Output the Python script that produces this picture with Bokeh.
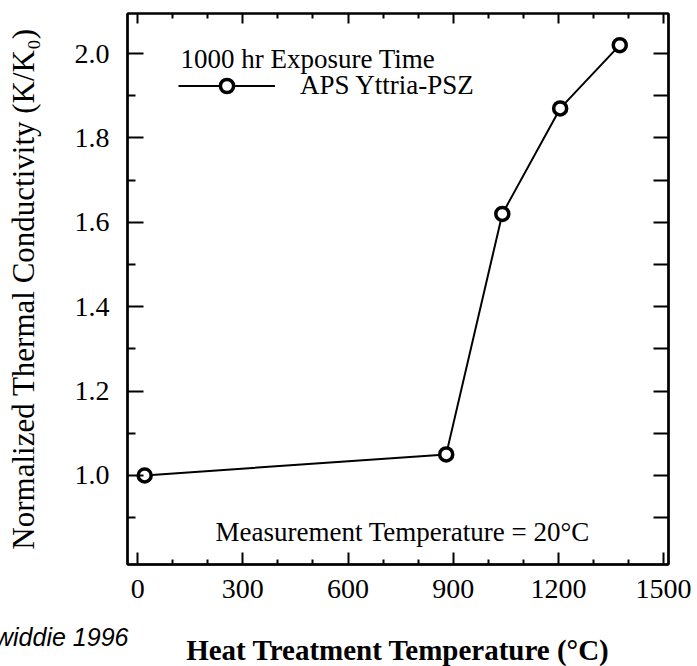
from bokeh.plotting import figure
from bokeh.models import (LinearAxis, FixedTicker, Label, Legend, LegendItem,
                          Range1d, CustomJSTickFormatter, PrintfTickFormatter, Title)
from bokeh.embed import file_html
from bokeh.resources import INLINE

# ---- data ----
heat_temp = [20, 880, 1040, 1205, 1375]          # Heat treatment temperature (°C)
norm_k = [1.00, 1.05, 1.62, 1.87, 2.02]          # K/K0

x_major = [0, 300, 600, 900, 1200, 1500]
x_minor = [100, 200, 400, 500, 700, 800, 1000, 1100, 1300, 1400]
y_major = [1.0, 1.2, 1.4, 1.6, 1.8, 2.0]
y_minor = [0.9, 1.1, 1.3, 1.5, 1.7, 1.9]
y_right = [0.9, 1.0, 1.1, 1.2, 1.3, 1.4, 1.5, 1.6, 1.7, 1.8, 1.9, 2.0]

series_label = "APS Yttria-PSZ"
legend_title = "1000 hr Exposure Time"
note_text = "Measurement Temperature = 20°C"
source_text = "Dinwiddie 1996"
x_title = "Heat Treatment Temperature (°C)"
y_title = "Normalized Thermal Conductivity (K/K₀)"

SERIF = "Liberation Serif"

p = figure(frame_width=541, frame_height=551,
           x_range=Range1d(-29, 1514), y_range=Range1d(0.789, 2.095),
           output_backend="svg", toolbar_location=None,
           min_border_left=127, min_border_right=24,
           min_border_top=13, min_border_bottom=0)
p.grid.visible = False
p.outline_line_color = "black"
p.outline_line_width = 2
p.background_fill_color = "white"
p.border_fill_color = "white"

# bottom axis (ticks and numbers)
xa = p.xaxis[0]
xa.ticker = FixedTicker(ticks=x_major, minor_ticks=x_minor)
xa.major_label_text_font = SERIF
xa.major_label_text_font_size = "28px"
xa.major_label_text_color = "black"
xa.major_label_standoff = 15
xa.major_tick_in = 12
xa.major_tick_out = 0
xa.minor_tick_in = 5
xa.minor_tick_out = 0
xa.axis_line_width = 2.5
xa.major_tick_line_width = 2
xa.minor_tick_line_width = 2

# left axis
ya = p.yaxis[0]
ya.ticker = FixedTicker(ticks=y_major, minor_ticks=y_minor)
ya.formatter = PrintfTickFormatter(format="%.1f")
ya.axis_label = y_title
ya.axis_label_text_font = SERIF
ya.axis_label_text_font_style = "normal"
ya.axis_label_text_font_size = "31px"
ya.axis_label_text_color = "black"
ya.axis_label_standoff = 31
ya.major_label_text_font = SERIF
ya.major_label_text_font_size = "28px"
ya.major_label_text_color = "black"
ya.major_label_standoff = 18
ya.major_tick_in = 16
ya.major_tick_out = 0
ya.minor_tick_in = 8
ya.minor_tick_out = 0
ya.axis_line_width = 2.5
ya.major_tick_line_width = 2
ya.minor_tick_line_width = 2

blank = CustomJSTickFormatter(code="return ''")

top = LinearAxis(ticker=FixedTicker(ticks=x_major, minor_ticks=x_minor),
                 formatter=blank, major_label_text_font_size="0px",
                 major_label_standoff=0, major_tick_in=10, major_tick_out=0,
                 minor_tick_in=5, minor_tick_out=0, axis_line_width=2,
                 major_tick_line_width=2, minor_tick_line_width=2)
p.add_layout(top, "above")

right = LinearAxis(ticker=FixedTicker(ticks=y_right, minor_ticks=[]),
                   formatter=blank, major_label_text_font_size="0px",
                   major_label_standoff=0, major_tick_in=15, major_tick_out=0,
                   minor_tick_in=0, minor_tick_out=0, axis_line_width=2.5,
                   major_tick_line_width=2)
p.add_layout(right, "right")

# source note under the numbers, running off the left edge
src = Title(text=source_text, align="left", offset=-170, standoff=44,
            vertical_align="top", text_font="Liberation Sans",
            text_font_style="italic", text_font_size="25px", text_color="black")
p.add_layout(src, "below")

# x axis title, pulled up beside the source note
xt = LinearAxis(ticker=FixedTicker(ticks=[], minor_ticks=[]),
                formatter=blank, major_label_text_font_size="0px",
                major_label_standoff=0, major_tick_in=0, major_tick_out=0,
                minor_tick_in=0, minor_tick_out=0, axis_line_color=None,
                major_tick_line_color=None, minor_tick_line_color=None,
                axis_label=x_title, axis_label_standoff=-41,
                axis_label_text_font=SERIF, axis_label_text_font_style="bold",
                axis_label_text_font_size="29px", axis_label_text_color="black")
p.add_layout(xt, "below")

# data
line_r = p.line(heat_temp, norm_k, line_color="black", line_width=2)
pts_r = p.scatter(heat_temp, norm_k, marker="circle", size=13,
                  fill_color="white", line_color="black", line_width=3.5)

legend = Legend(items=[LegendItem(label=series_label, renderers=[line_r, pts_r])],
                location=(51, 462), padding=0, margin=0, spacing=0,
                border_line_color=None, background_fill_alpha=0,
                glyph_width=97, glyph_height=33, label_standoff=25,
                label_text_font=SERIF, label_text_font_size="27px",
                label_text_color="black")
p.add_layout(legend, "center")

p.add_layout(Label(x=53, y=506, x_units="screen", y_units="screen",
                   text=legend_title, text_font=SERIF, text_font_size="27px",
                   text_color="black", text_baseline="alphabetic"))
p.add_layout(Label(x=88, y=33, x_units="screen", y_units="screen",
                   text=note_text, text_font=SERIF, text_font_size="27px",
                   text_color="black", text_baseline="alphabetic"))

open("out.html", "w").write(file_html(p, INLINE))
